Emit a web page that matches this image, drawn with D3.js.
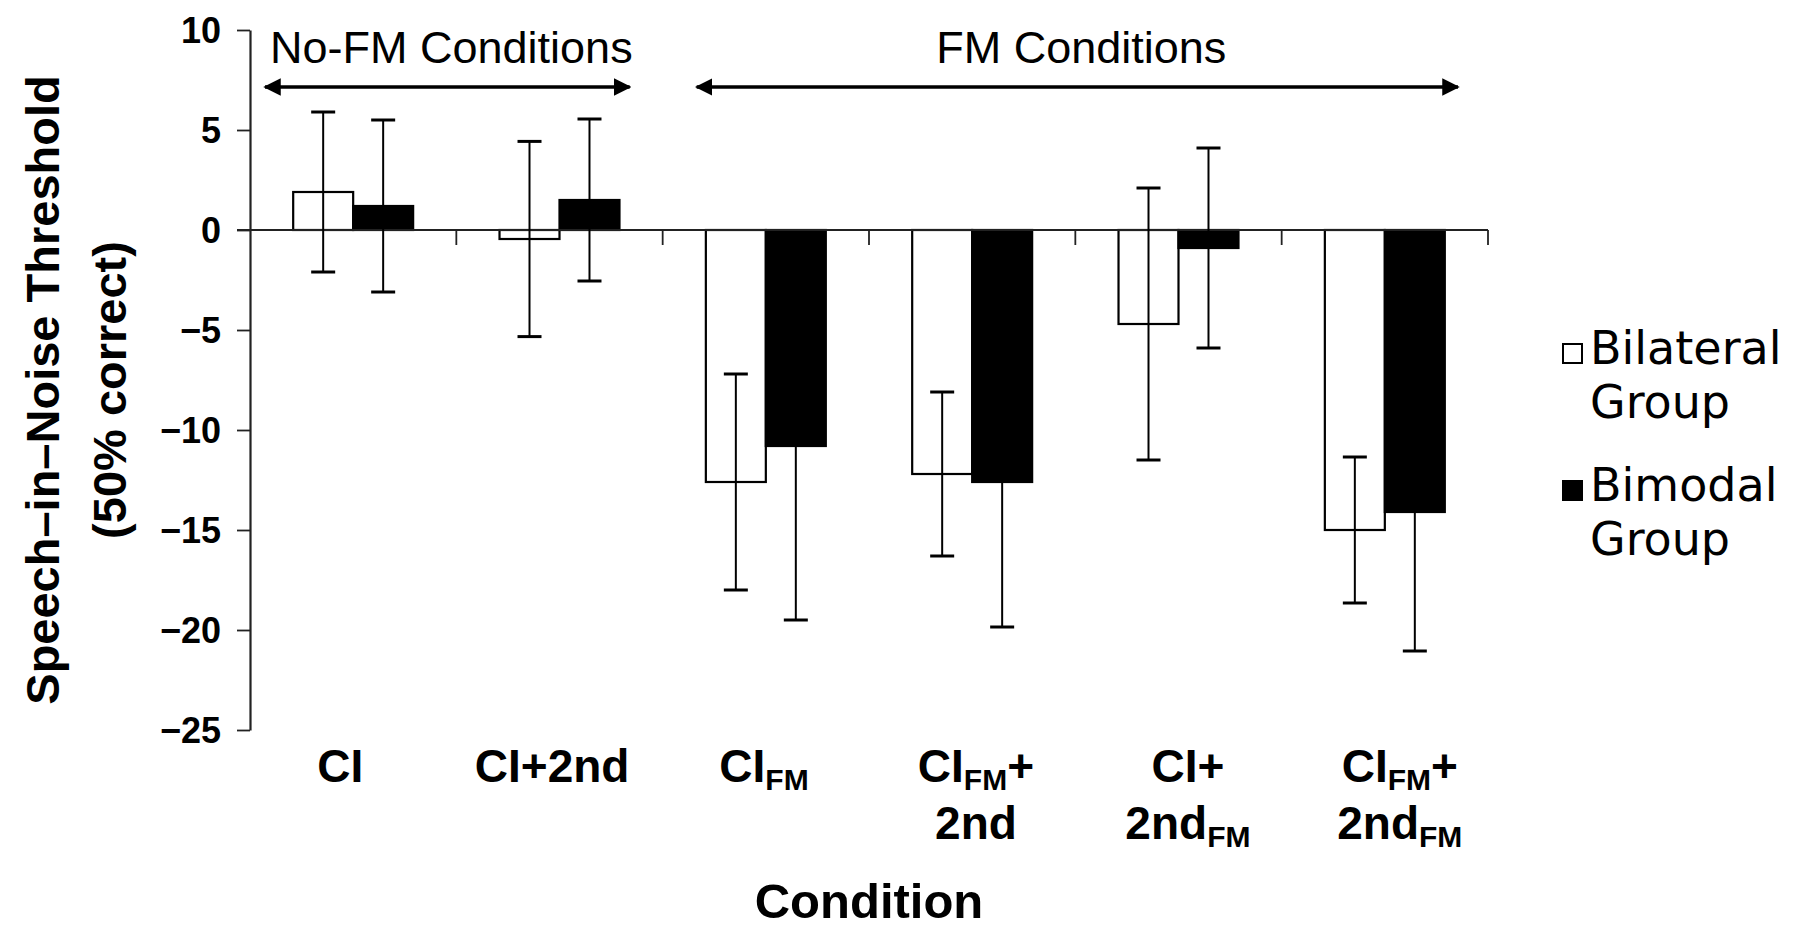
<!DOCTYPE html>
<html>
<head>
<meta charset="utf-8">
<script src="https://cdn.jsdelivr.net/npm/d3@7"></script>
<style>
  body { margin: 0; background: #fff; }
  svg { display: block; }
</style>
</head>
<body>
<div id="chart"></div>
<script>
// data
const categories = ["CI", "CI+2nd", "CI_FM", "CI_FM+2nd", "CI+2nd_FM", "CI_FM+2nd_FM"];
// "{..}" = subscript, "|" = line break
const tickLabels = ["CI", "CI+2nd", "CI{FM}", "CI{FM}+|2nd", "CI+|2nd{FM}", "CI{FM}+|2nd{FM}"];
const groups = ["Bilateral", "Bimodal"];
const bilateral = [1.9, -0.45, -12.6, -12.2, -4.7, -15.0];
const bilateralErr = [4.0, 4.88, 5.4, 4.1, 6.8, 3.65];
const bimodal = [1.2, 1.5, -10.8, -12.6, -0.9, -14.1];
const bimodalErr = [4.3, 4.05, 8.7, 7.25, 5.0, 6.95];
const yTicks = [10, 5, 0, -5, -10, -15, -20, -25];
const legendLabels = [["Bilateral", "Group"], ["Bimodal", "Group"]];

const width = 1797, height = 927;
const margin = {top: 30, right: 309, bottom: 197, left: 250};
const boldFont = "'Liberation Sans', Arial, sans-serif";

const svg = d3.select("#chart")
    .append("svg")
        .attr("width", width)
        .attr("height", height);

// scales
const x0 = d3.scaleBand()
    .domain(categories)
    .range([margin.left, width - margin.right])
    .padding(0);

const x1 = d3.scaleBand()
    .domain(groups)
    .range([0, x0.bandwidth()])
    .paddingInner(0)
    .paddingOuter(0.72);

// category labels sit on a slightly wider grid than the bars
const xLab = d3.scalePoint()
    .domain(categories)
    .range([x0("CI") + x0.bandwidth() / 2 - 13, x0.range()[1] - x0.bandwidth() / 2 + 15]);

const y = d3.scaleLinear()
    .domain([-25, 10])
    .range([height - margin.bottom, margin.top]);

const fill = {Bilateral: "#fff", Bimodal: "#000"};
const vals = {Bilateral: bilateral, Bimodal: bimodal};
const errs = {Bilateral: bilateralErr, Bimodal: bimodalErr};

const data = [];
categories.forEach((c, i) => {
    groups.forEach(g => {
        data.push({cat: c, group: g, value: vals[g][i], err: errs[g][i]});
    });
});

// Y axis
const yAxis = svg.append("g")
    .attr("transform", `translate(${margin.left},0)`)
    .call(d3.axisLeft(y).tickValues(yTicks).tickSize(13).tickSizeOuter(0).tickPadding(16))
yAxis.select(".domain").attr("stroke", "#222").attr("stroke-width", 2.2)
yAxis.selectAll(".tick line").attr("stroke", "#222").attr("stroke-width", 1.8)
yAxis.selectAll(".tick text")
    .attr("fill", "#000")
    .style("font-family", boldFont)
    .style("font-weight", "bold")
    .style("font-size", "36px")
    .attr("dy", "0.36em")

// bars
const bars = svg.append("g")
bars.selectAll("rect")
    .data(data)
    .join("rect")
        .attr("x", d => x0(d.cat) + x1(d.group))
        .attr("y", d => y(Math.max(0, d.value)))
        .attr("width", x1.bandwidth())
        .attr("height", d => Math.abs(y(d.value) - y(0)))
        .attr("fill", d => fill[d.group])
        .attr("stroke", "#000")
        .attr("stroke-width", 2.2)

// X axis line at zero, with ticks between categories
const xAxisG = svg.append("g")
xAxisG.append("line")
    .attr("x1", margin.left - 13)
    .attr("x2", x0.range()[1])
    .attr("y1", y(0))
    .attr("y2", y(0))
    .attr("stroke", "#222")
    .attr("stroke-width", 1.8)
const bounds = categories.map(c => x0(c)).concat([x0.range()[1]]).slice(1)
xAxisG.selectAll(".xtick")
    .data(bounds)
    .join("line")
        .attr("class", "xtick")
        .attr("x1", d => d)
        .attr("x2", d => d)
        .attr("y1", y(0))
        .attr("y2", y(0) + 15)
        .attr("stroke", "#222")
        .attr("stroke-width", 1.8)

// error bars
const capW = 24;
const errG = svg.append("g")
const eb = errG.selectAll("g")
    .data(data)
    .join("g")
        .attr("transform", d => `translate(${x0(d.cat) + x1(d.group) + x1.bandwidth() / 2},0)`)
eb.append("line")
    .attr("y1", d => y(d.value + d.err))
    .attr("y2", d => y(d.value - d.err))
    .attr("stroke", "#000")
    .attr("stroke-width", 2)
eb.selectAll(".cap")
    .data(d => [d.value + d.err, d.value - d.err])
    .join("line")
        .attr("class", "cap")
        .attr("x1", -capW / 2)
        .attr("x2", capW / 2)
        .attr("y1", v => y(v))
        .attr("y2", v => y(v))
        .attr("stroke", "#000")
        .attr("stroke-width", 3)

// category labels with subscripts
const labelG = svg.append("g")
    .style("font-family", boldFont)
    .style("font-weight", "bold")
tickLabels.forEach((lab, i) => {
    const cx = xLab(categories[i]);
    lab.split("|").forEach((line, li) => {
        const t = labelG.append("text")
            .attr("x", cx)
            .attr("y", 782 + li * 57)
            .attr("text-anchor", "middle")
            .style("font-size", "46px")
        const parts = line.split(/(\{[^}]*\})/).filter(s => s.length)
        let shifted = false
        parts.forEach(p => {
            if (p[0] === "{") {
                t.append("tspan")
                    .attr("dy", 8)
                    .style("font-size", "30px")
                    .text(p.slice(1, -1))
                shifted = true
            } else {
                t.append("tspan")
                    .attr("dy", shifted ? -8 : 0)
                    .text(p)
                shifted = false
            }
        })
    })
})

// axis titles
svg.append("text")
    .attr("x", (x0.range()[0] + x0.range()[1]) / 2)
    .attr("y", 918)
    .attr("text-anchor", "middle")
    .style("font-family", boldFont)
    .style("font-weight", "bold")
    .style("font-size", "49px")
    .text("Condition")

const yTitle = svg.append("text")
    .attr("transform", "translate(0,390) rotate(-90)")
    .attr("text-anchor", "middle")
    .style("font-family", boldFont)
    .style("font-weight", "bold")
    .style("font-size", "47px")
yTitle.append("tspan").attr("x", 0).attr("y", 59).text("Speech–in–Noise Threshold")
yTitle.append("tspan").attr("x", 0).attr("y", 126).text("(50% correct)")

// condition range arrows
const defs = svg.append("defs")
defs.append("marker")
    .attr("id", "arrowEnd")
    .attr("viewBox", "0 0 10 10")
    .attr("refX", 9)
    .attr("refY", 5)
    .attr("markerWidth", 5)
    .attr("markerHeight", 5)
    .attr("markerUnits", "strokeWidth")
    .attr("orient", "auto-start-reverse")
    .append("path")
        .attr("d", "M0,0 L10,5 L0,10 z")
        .attr("fill", "#000")

const arrowY = 87;
const spans = [
    {label: "No-FM Conditions", x1: x0("CI") + 15, x2: x0("CI_FM") - 33},
    {label: "FM Conditions", x1: x0("CI_FM") + 34, x2: x0.range()[1] - 30}
];
const arrows = svg.append("g")
arrows.selectAll("line")
    .data(spans)
    .join("line")
        .attr("x1", d => d.x1)
        .attr("x2", d => d.x2)
        .attr("y1", arrowY)
        .attr("y2", arrowY)
        .attr("stroke", "#000")
        .attr("stroke-width", 3.5)
        .attr("marker-start", "url(#arrowEnd)")
        .attr("marker-end", "url(#arrowEnd)")
arrows.selectAll("text")
    .data(spans)
    .join("text")
        .attr("x", d => (d.x1 + d.x2) / 2 + 4)
        .attr("y", 63)
        .attr("text-anchor", "middle")
        .style("font-family", "'Liberation Sans', Arial, sans-serif")
        .style("font-size", "45px")
        .text(d => d.label)

// legend
const legend = svg.append("g")
    .style("font-family", "'DejaVu Sans', sans-serif")
    .style("font-size", "46px")
groups.forEach((g, i) => {
    const top = 344 + i * 137;
    legend.append("rect")
        .attr("x", 1563)
        .attr("y", top)
        .attr("width", 19)
        .attr("height", 19)
        .attr("fill", fill[g])
        .attr("stroke", "#000")
        .attr("stroke-width", 2)
    legendLabels[i].forEach((line, li) => {
        legend.append("text")
            .attr("x", 1590)
            .attr("y", top + 20 + li * 54)
            .text(line)
    })
})
</script>
</body>
</html>
